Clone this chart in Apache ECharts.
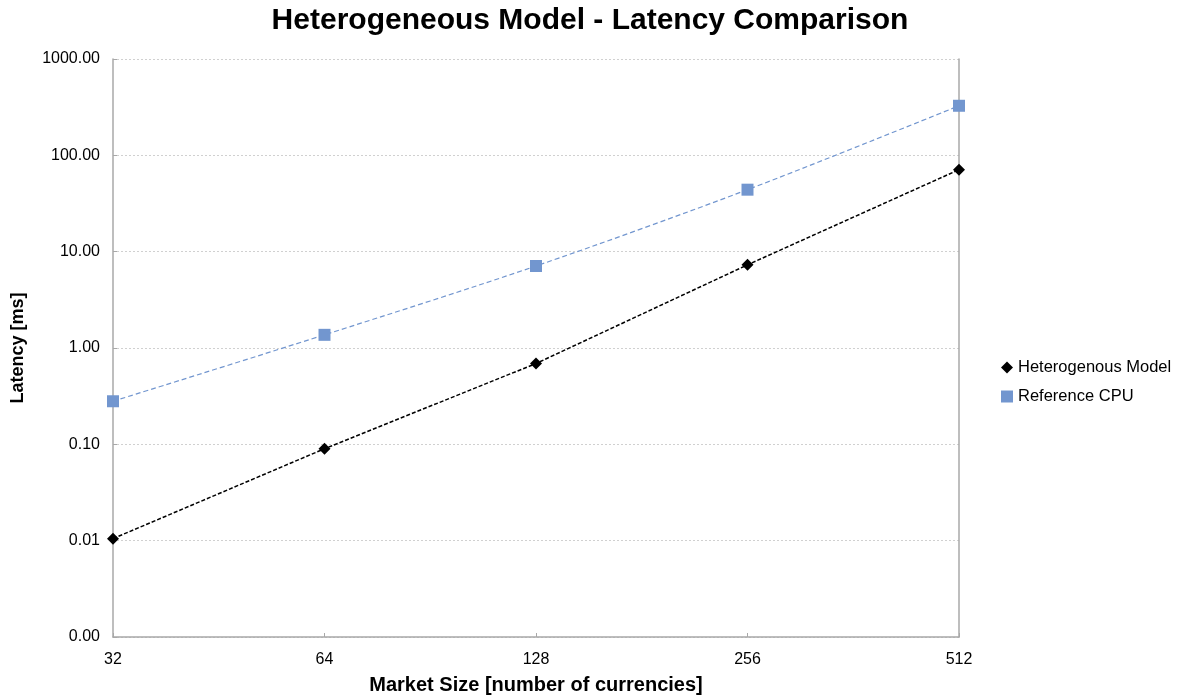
<!DOCTYPE html>
<html>
<head>
<meta charset="utf-8">
<script src="https://cdn.jsdelivr.net/npm/echarts@6/dist/echarts.min.js"></script>
<style>html,body{margin:0;padding:0;background:#fff;}#c{width:1180px;height:697px;}</style>
</head>
<body>
<div id="c"></div>
<script>
const categories = ['32', '64', '128', '256', '512'];
const heterogeneousModel = [0.0105, 0.090, 0.69, 7.3, 71];
const referenceCPU = [0.28, 1.37, 7.1, 44, 327];
const seriesNames = ['Heterogenous Model', 'Reference CPU'];

const chart = echarts.init(document.getElementById('c'));
const FONT = '"Liberation Sans", Arial, Helvetica, sans-serif';
const axisGray = '#a8a8a8';
const blue = '#7296cf';
chart.setOption({
  animation: false,
  backgroundColor: '#fff',
  textStyle: { fontFamily: FONT },
  title: {
    text: 'Heterogeneous Model - Latency Comparison',
    left: 'center', top: 1,
    textStyle: { fontFamily: FONT, fontSize: 30, fontWeight: 'bold', color: '#000' }
  },
  grid: { left: 113, right: 221, top: 59, bottom: 60, containLabel: false, outerBoundsMode: 'none' },
  legend: {
    orient: 'vertical', left: 996, top: 354, itemGap: 12,
    itemWidth: 12, itemHeight: 12,
    textStyle: { fontFamily: FONT, fontSize: 16.5, color: '#000' },
    data: [
      { name: seriesNames[0], icon: 'diamond', itemStyle: { color: '#000' } },
      { name: seriesNames[1], icon: 'rect', itemStyle: { color: blue } }
    ]
  },
  xAxis: {
    type: 'category', data: categories, boundaryGap: false,
    name: 'Market Size [number of currencies]', nameLocation: 'middle', nameGap: 38,
    nameTextStyle: { fontFamily: FONT, fontSize: 20, fontWeight: 'bold', color: '#000' },
    axisLine: { lineStyle: { color: axisGray, width: 1.5 } },
    axisTick: { inside: true, length: 4, lineStyle: { color: axisGray } },
    axisLabel: { fontFamily: FONT, fontSize: 16, color: '#000', margin: 15 },
    splitLine: { show: false }
  },
  yAxis: [{
    type: 'log', logBase: 10, min: 0.001, max: 1000,
    name: 'Latency [ms]', nameLocation: 'middle', nameGap: 86, nameRotate: 90,
    nameTextStyle: { fontFamily: FONT, fontSize: 18, fontWeight: 'bold', color: '#000' },
    axisLine: { show: true, lineStyle: { color: axisGray, width: 1.5 } },
    axisTick: { show: true, inside: true, length: 4, lineStyle: { color: axisGray } },
    axisLabel: { fontFamily: FONT, fontSize: 16, color: '#000', margin: 13,
      formatter: v => Number(v).toFixed(2) },
    splitLine: { show: true, lineStyle: { color: '#d0d0d0', type: [2, 2], width: 1 } },
    minorTick: { show: false }
  }, {
    type: 'log', logBase: 10, min: 0.001, max: 1000, position: 'right',
    axisLine: { show: true, lineStyle: { color: axisGray, width: 1.5 } },
    axisTick: { show: false }, axisLabel: { show: false }, splitLine: { show: false }
  }],
  series: [
    {
      name: seriesNames[0], type: 'line', data: heterogeneousModel, yAxisIndex: 0,
      symbol: 'diamond', symbolSize: 12,
      itemStyle: { color: '#000' },
      lineStyle: { color: '#000', width: 1.5, type: [4, 2] },
      z: 3
    },
    {
      name: seriesNames[1], type: 'line', data: referenceCPU, yAxisIndex: 0,
      symbol: 'rect', symbolSize: 12, smooth: 0.3,
      itemStyle: { color: blue },
      lineStyle: { color: blue, width: 1.2, type: [5, 3] },
      z: 3
    }
  ]
});
</script>
</body>
</html>
